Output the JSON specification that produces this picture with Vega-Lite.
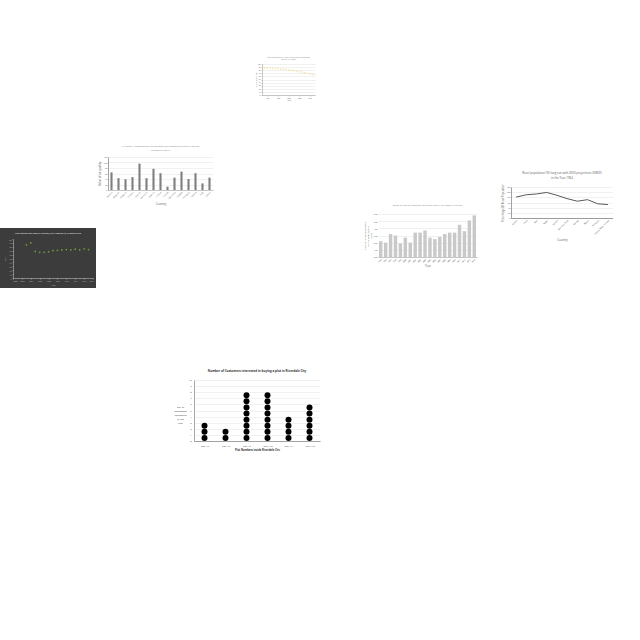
{
  "$schema": "https://vega.github.io/schema/vega-lite/v6.json",
  "padding": 0,
  "background": "white",
  "spacing": 0,
  "bounds": "flush",
  "config": {
    "view": {"stroke": null},
    "concat": {"spacing": 0},
    "font": "Open Sans",
    "title": {"fontWeight": "normal", "color": "#595959"},
    "axis": {"tickSize": 1, "labelPadding": 1, "titlePadding": 2, "labelFontSize": 2.5, "titleFontSize": 2.8, "labelColor": "#595959", "titleColor": "#595959", "gridColor": "#e3e3e3", "gridWidth": 0.5, "domainColor": "#999", "domainWidth": 0.5, "tickColor": "#999", "tickWidth": 0.5, "titleFontWeight": "normal", "labelOverlap": false}
  },
  "datasets": {
    "urban": [
      {"year": 1950, "pct": 87}, {"year": 1955, "pct": 87}, {"year": 1960, "pct": 87}, {"year": 1965, "pct": 86}, {"year": 1970, "pct": 86},
      {"year": 1975, "pct": 85}, {"year": 1980, "pct": 85}, {"year": 1985, "pct": 84}, {"year": 1990, "pct": 83}, {"year": 1995, "pct": 82},
      {"year": 2000, "pct": 81}, {"year": 2005, "pct": 80}, {"year": 2010, "pct": 78}, {"year": 2015, "pct": 77}, {"year": 2020, "pct": 75},
      {"year": 2025, "pct": 74}, {"year": 2030, "pct": 72}, {"year": 2035, "pct": 70}, {"year": 2040, "pct": 68}, {"year": 2045, "pct": 66}, {"year": 2050, "pct": 65}
    ],
    "air": [
      {"country": "Austria", "value": 64}, {"country": "Belgium", "value": 43}, {"country": "Bulgaria", "value": 39}, {"country": "Croatia", "value": 47},
      {"country": "Cyprus", "value": 96}, {"country": "Denmark", "value": 43}, {"country": "Estonia", "value": 77}, {"country": "Finland", "value": 61},
      {"country": "France", "value": 12}, {"country": "Germany", "value": 45}, {"country": "Greece", "value": 67}, {"country": "Hungary", "value": 40},
      {"country": "Ireland", "value": 61}, {"country": "Italy", "value": 24}, {"country": "Latvia", "value": 45}
    ],
    "debt": [
      {"year": 2003, "ratio": 85}, {"year": 2004, "ratio": 90}, {"year": 2005, "ratio": 68}, {"year": 2006, "ratio": 66}, {"year": 2007, "ratio": 66},
      {"year": 2008, "ratio": 67}, {"year": 2009, "ratio": 70}, {"year": 2010, "ratio": 71}, {"year": 2011, "ratio": 72}, {"year": 2012, "ratio": 73},
      {"year": 2013, "ratio": 72}, {"year": 2014, "ratio": 74}, {"year": 2015, "ratio": 72}, {"year": 2016, "ratio": 75}, {"year": 2017, "ratio": 73}
    ],
    "rain": [
      {"year": "1995", "share": 2.2}, {"year": "1996", "share": 2.0}, {"year": "1997", "share": 3.2}, {"year": "1998", "share": 3.0}, {"year": "1999", "share": 1.9},
      {"year": "2000", "share": 2.7}, {"year": "2001", "share": 2.0}, {"year": "2002", "share": 3.4}, {"year": "2003", "share": 3.4}, {"year": "2004", "share": 3.7},
      {"year": "2005", "share": 2.7}, {"year": "2006", "share": 2.5}, {"year": "2007", "share": 2.8}, {"year": "2008", "share": 3.2}, {"year": "2009", "share": 3.4},
      {"year": "2010", "share": 3.4}, {"year": "2011", "share": 4.5}, {"year": "2012", "share": 3.6}, {"year": "2013", "share": 5.1}, {"year": "2014", "share": 5.8}
    ],
    "rural": [
      {"country": "Sudan", "pct": 81}, {"country": "Chad", "pct": 90}, {"country": "Mali", "pct": 93}, {"country": "Niger", "pct": 99}, {"country": "Yemen", "pct": 88},
      {"country": "Burkina Faso", "pct": 75}, {"country": "Kenya", "pct": 65}, {"country": "Nepal", "pct": 71}, {"country": "Ethiopia", "pct": 55}, {"country": "Papua New Guinea", "pct": 52}
    ],
    "plots": [
      {"plot": "Plot A7", "level": 0.5}, {"plot": "Plot A7", "level": 1.5}, {"plot": "Plot A7", "level": 2.5},
      {"plot": "Plot A8", "level": 0.5}, {"plot": "Plot A8", "level": 1.5},
      {"plot": "Plot A9", "level": 0.5}, {"plot": "Plot A9", "level": 1.5}, {"plot": "Plot A9", "level": 2.5}, {"plot": "Plot A9", "level": 3.5},
      {"plot": "Plot A9", "level": 4.5}, {"plot": "Plot A9", "level": 5.5}, {"plot": "Plot A9", "level": 6.5}, {"plot": "Plot A9", "level": 7.5},
      {"plot": "Plot A10", "level": 0.5}, {"plot": "Plot A10", "level": 1.5}, {"plot": "Plot A10", "level": 2.5}, {"plot": "Plot A10", "level": 3.5},
      {"plot": "Plot A10", "level": 4.5}, {"plot": "Plot A10", "level": 5.5}, {"plot": "Plot A10", "level": 6.5}, {"plot": "Plot A10", "level": 7.5},
      {"plot": "Plot A11", "level": 0.5}, {"plot": "Plot A11", "level": 1.5}, {"plot": "Plot A11", "level": 2.5}, {"plot": "Plot A11", "level": 3.5},
      {"plot": "Plot A12", "level": 0.5}, {"plot": "Plot A12", "level": 1.5}, {"plot": "Plot A12", "level": 2.5}, {"plot": "Plot A12", "level": 3.5},
      {"plot": "Plot A12", "level": 4.5}, {"plot": "Plot A12", "level": 5.5}
    ]
  },
  "vconcat": [
    {"width": 262, "height": 64, "data": {"values": [{}]}, "mark": {"type": "point", "opacity": 0}, "view": {"fill": "white", "stroke": null}},
    {
      "hconcat": [
        {"width": 262, "height": 1, "data": {"values": [{}]}, "mark": {"type": "point", "opacity": 0}},
        {
          "width": 53, "height": 31,
          "data": {"name": "urban"},
          "title": {"text": ["Rural population (%) long run with 2050 projections", "(OWID) in Albania"], "fontSize": 1.8, "offset": 2, "lineHeight": 2.2, "color": "#888"},
          "mark": {"type": "point", "filled": true, "size": 2, "color": "#f0d060"},
          "encoding": {
            "x": {"field": "year", "type": "quantitative", "scale": {"domain": [1950, 2050]}, "axis": {"title": "Year", "tickCount": 5, "format": "d", "grid": false, "labelFontSize": 1.6, "titleFontSize": 1.8, "titlePadding": 1}},
            "y": {"field": "pct", "type": "quantitative", "scale": {"domain": [0, 100]}, "axis": {"title": "Rural population (%)", "tickCount": 10, "labelFontSize": 1.6, "titleFontSize": 1.6, "titlePadding": 1}}
          }
        }
      ],
      "spacing": 0, "bounds": "flush"
    },
    {"width": 10, "height": 93, "data": {"values": [{}]}, "mark": {"type": "point", "opacity": 0}},
    {
      "hconcat": [
        {"width": 108, "height": 1, "data": {"values": [{}]}, "mark": {"type": "point", "opacity": 0}},
        {
          "width": 105, "height": 33,
          "data": {"name": "air"},
          "title": {"text": ["Air quality Measures on the national environmental health tracking", "network in 2019"], "fontSize": 2.5, "offset": 5, "lineHeight": 4, "color": "#7f7f7f"},
          "mark": {"type": "bar", "color": "#7f7f7f"},
          "encoding": {
            "x": {"field": "country", "type": "nominal", "sort": null, "scale": {"paddingInner": 0.7, "paddingOuter": 0.35}, "axis": {"title": "Country", "labelAngle": -45, "labelFontSize": 2.2, "ticks": false, "titlePadding": 3}},
            "y": {"field": "value", "type": "quantitative", "scale": {"domain": [0, 120]}, "axis": {"title": "Value of air quality", "values": [0, 20, 40, 60, 80, 100, 120], "labelFontSize": 2.2, "ticks": false, "domain": true, "domainColor": "#444"}}
          }
        }
      ],
      "spacing": 0, "bounds": "flush"
    },
    {"width": 10, "height": 30, "data": {"values": [{}]}, "mark": {"type": "point", "opacity": 0}},
    {
      "hconcat": [
        {"width": 511, "height": 1, "data": {"values": [{}]}, "mark": {"type": "point", "opacity": 0}},
        {
          "width": 102, "height": 31,
          "data": {"name": "rural"},
          "title": {"text": ["Rural population (%) long run with 2050 projections (OWID)", "in the Year 1964"], "fontSize": 2.9, "offset": 4, "lineHeight": 5, "color": "#595959"},
          "mark": {"type": "line", "color": "#595959", "strokeWidth": 1},
          "encoding": {
            "x": {"field": "country", "type": "nominal", "sort": null, "axis": {"title": "Country", "labelAngle": -45, "labelFontSize": 2.3, "ticks": false, "titlePadding": 3, "domainColor": "#444"}},
            "y": {"field": "pct", "type": "quantitative", "scale": {"domain": [0, 120]}, "axis": {"title": "Percentage Of Rural Population", "values": [0, 20, 40, 60, 80, 100, 120], "labelFontSize": 2.3, "titleFontSize": 2.6, "ticks": false, "domainColor": "#444"}}
          }
        }
      ],
      "spacing": 0, "bounds": "flush"
    },
    {"width": 10, "height": 27, "data": {"values": [{}]}, "mark": {"type": "point", "opacity": 0}},
    {
      "hconcat": [
        {"width": 378, "height": 1, "data": {"values": [{}]}, "mark": {"type": "point", "opacity": 0}},
        {
          "width": 99, "height": 43,
          "data": {"name": "rain"},
          "title": {"text": "Share of rainfall allocated to animal feed (FAO, 2000) in Mexico", "fontSize": 2.4, "offset": 7, "color": "#7f7f7f"},
          "mark": {"type": "bar", "color": "#c9c9c9"},
          "encoding": {
            "x": {"field": "year", "type": "nominal", "sort": null, "scale": {"paddingInner": 0.3, "paddingOuter": 0.2}, "axis": {"title": "Year", "labelAngle": -45, "labelFontSize": 2, "ticks": false, "titlePadding": 2}},
            "y": {"field": "share", "type": "quantitative", "scale": {"domain": [0, 6]}, "axis": {"title": ["Share of rainfall allocated to", "animal feed (%) (FAO,", "2000)"], "values": [0, 1, 2, 3, 4, 5, 6], "format": ".2f", "labelFontSize": 2, "titleFontSize": 2.2, "ticks": false, "domain": false, "titleLineHeight": 2.6}}
          }
        }
      ],
      "spacing": 0, "bounds": "flush"
    },
    {"width": 10, "height": 14, "data": {"values": [{}]}, "mark": {"type": "point", "opacity": 0}},
    {
      "width": 96, "height": 60,
      "data": {"name": "debt"},
      "view": {"fill": "#3c3c3c", "stroke": null},
      "title": {"text": "Net debt to gdp ratio (% of gdp) (IMF WEO 2017) in Saint Lucia", "fontSize": 2.3, "color": "#ffffff", "offset": -7},
      "mark": {"type": "point", "filled": true, "size": 3, "color": "#8cc63f"},
      "encoding": {
        "x": {"field": "year", "type": "quantitative", "scale": {"domain": [2000, 2018], "range": [13, 93]}, "axis": {"title": "Year", "offset": -10, "format": "d", "tickCount": 8, "grid": false, "labelColor": "#bbbbbb", "titleColor": "#bbbbbb", "domainColor": "#cccccc", "tickColor": "#cccccc", "labelFontSize": 1.8, "titleFontSize": 2}},
        "y": {"field": "ratio", "type": "quantitative", "scale": {"domain": [0, 100], "range": [50, 11]}, "axis": {"title": "Ratio", "offset": -13, "tickCount": 10, "grid": false, "labelColor": "#bbbbbb", "titleColor": "#bbbbbb", "domainColor": "#cccccc", "tickColor": "#cccccc", "labelFontSize": 1.8, "titleFontSize": 2}}
      }
    },
    {"width": 10, "height": 92, "data": {"values": [{}]}, "mark": {"type": "point", "opacity": 0}},
    {
      "hconcat": [
        {"width": 194, "height": 1, "data": {"values": [{}]}, "mark": {"type": "point", "opacity": 0}},
        {
          "width": 126, "height": 61,
          "data": {"name": "plots"},
          "title": {"text": "Number of Customers interested in buying a plot in Riverdale City", "fontSize": 3, "fontWeight": "bold", "color": "#333333", "offset": 6},
          "mark": {"type": "circle", "color": "#000000", "opacity": 1, "size": 36},
          "encoding": {
            "x": {"field": "plot", "type": "nominal", "sort": null, "axis": {"title": "Plot Numbers inside Riverdale City", "titleFontWeight": "bold", "titleColor": "#333333", "labelColor": "#333333", "labelAngle": 0, "labelFontSize": 2.4, "titleFontSize": 2.6, "ticks": false, "labelPadding": 3, "titlePadding": 1.5, "domainColor": "#555"}},
            "y": {"field": "level", "type": "quantitative", "scale": {"domain": [0, 10]}, "axis": {"title": ["No. of", "customers", "interested", "in the", "plot"], "titleAngle": 0, "titleAlign": "center", "titleBaseline": "top", "titleX": -14, "titleY": 25, "titleLineHeight": 4.2, "titleFontSize": 2.5, "titleColor": "#333333", "labelColor": "#333333", "values": [0, 1, 2, 3, 4, 5, 6, 7, 8, 9, 10], "labelFontSize": 2.3, "ticks": false, "labelPadding": 3, "domainColor": "#555"}}
          }
        }
      ],
      "spacing": 0, "bounds": "flush"
    }
  ]
}
